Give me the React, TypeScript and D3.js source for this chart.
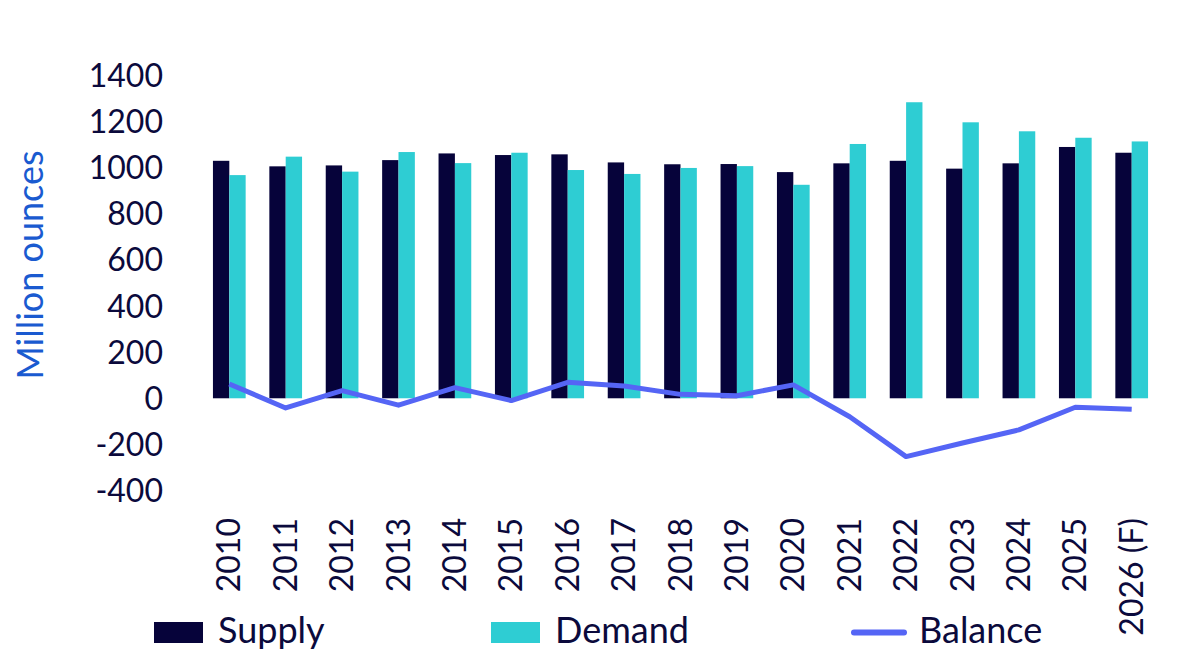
import React from "react";
import * as d3 from "d3";

const years = ["2010","2011","2012","2013","2014","2015","2016","2017","2018","2019","2020","2021","2022","2023","2024","2025","2026 (F)"];
const supply = [1030,1006,1010,1033,1062,1055,1058,1023,1015,1016,981,1019,1030,996,1019,1090,1065];
const demand = [968,1048,983,1068,1020,1065,990,973,999,1007,926,1103,1284,1197,1158,1130,1114];
const balance = [62,-42,33,-30,46,-10,69,53,17,11,58,-80,-253,-194,-137,-39,-48];
const yTicks = [-400,-200,0,200,400,600,800,1000,1200,1400];

const W = 1200, H = 655;
const C_SUP = "#06033a", C_DEM = "#2ecdd3", C_BAL = "#5565f5", C_TXT = "#0b0a3c", C_TITLE = "#1a5ad0";
const FONT = "Lato, 'Noto Sans', sans-serif";

export default function App() {
  const x = d3.scaleBand<string>().domain(years).range([201.1, 1159.9]).padding(0);
  const step = x.step();
  const bw = step * 0.29;
  const cx = (d: string) => (x(d) as number) + step / 2;
  const y = d3.scaleLinear().domain([-400, 1400]).range([490.5, 75.5]);
  const line = d3.line<number>().x((_, i) => cx(years[i])).y(v => y(v));

  return (
    <div style={{ position: "fixed", left: 0, top: 0 }}>
      <svg width={W} height={H} style={{ display: "block", fontFamily: FONT }}>
        <rect width={W} height={H} fill="#fff" />
        {yTicks.map(t => (
          <text key={t} x={163} y={y(t)} dy="0.36em" textAnchor="end" fontSize={32} fill={C_TXT}>{t}</text>
        ))}
        <text transform={`translate(43,265) rotate(-90)`} textAnchor="middle" fontSize={36} fill={C_TITLE}>Million ounces</text>
        {years.map((d, i) => (
          <g key={d}>
            <rect x={cx(d) - bw} y={y(supply[i])} width={bw} height={y(0) - y(supply[i])} fill={C_SUP} />
            <rect x={cx(d)} y={y(demand[i])} width={bw} height={y(0) - y(demand[i])} fill={C_DEM} />
          </g>
        ))}
        <path d={line(balance) || ""} fill="none" stroke={C_BAL} strokeWidth={5} strokeLinejoin="round" />
        {years.map(d => (
          <text key={d} transform={`translate(${cx(d) + 11},518) rotate(-90)`} textAnchor="end" fontSize={32} fill={C_TXT}>{d}</text>
        ))}
        <rect x={154} y={622} width={49} height={21} fill={C_SUP} />
        <text x={218} y={643} fontSize={36} fill={C_TXT}>Supply</text>
        <rect x={491} y={622} width={49} height={21} fill={C_DEM} />
        <text x={555} y={643} fontSize={36} fill={C_TXT}>Demand</text>
        <line x1={854} x2={904} y1={632.5} y2={632.5} stroke={C_BAL} strokeWidth={6} strokeLinecap="round" />
        <text x={919} y={643} fontSize={36} fill={C_TXT}>Balance</text>
      </svg>
    </div>
  );
}
